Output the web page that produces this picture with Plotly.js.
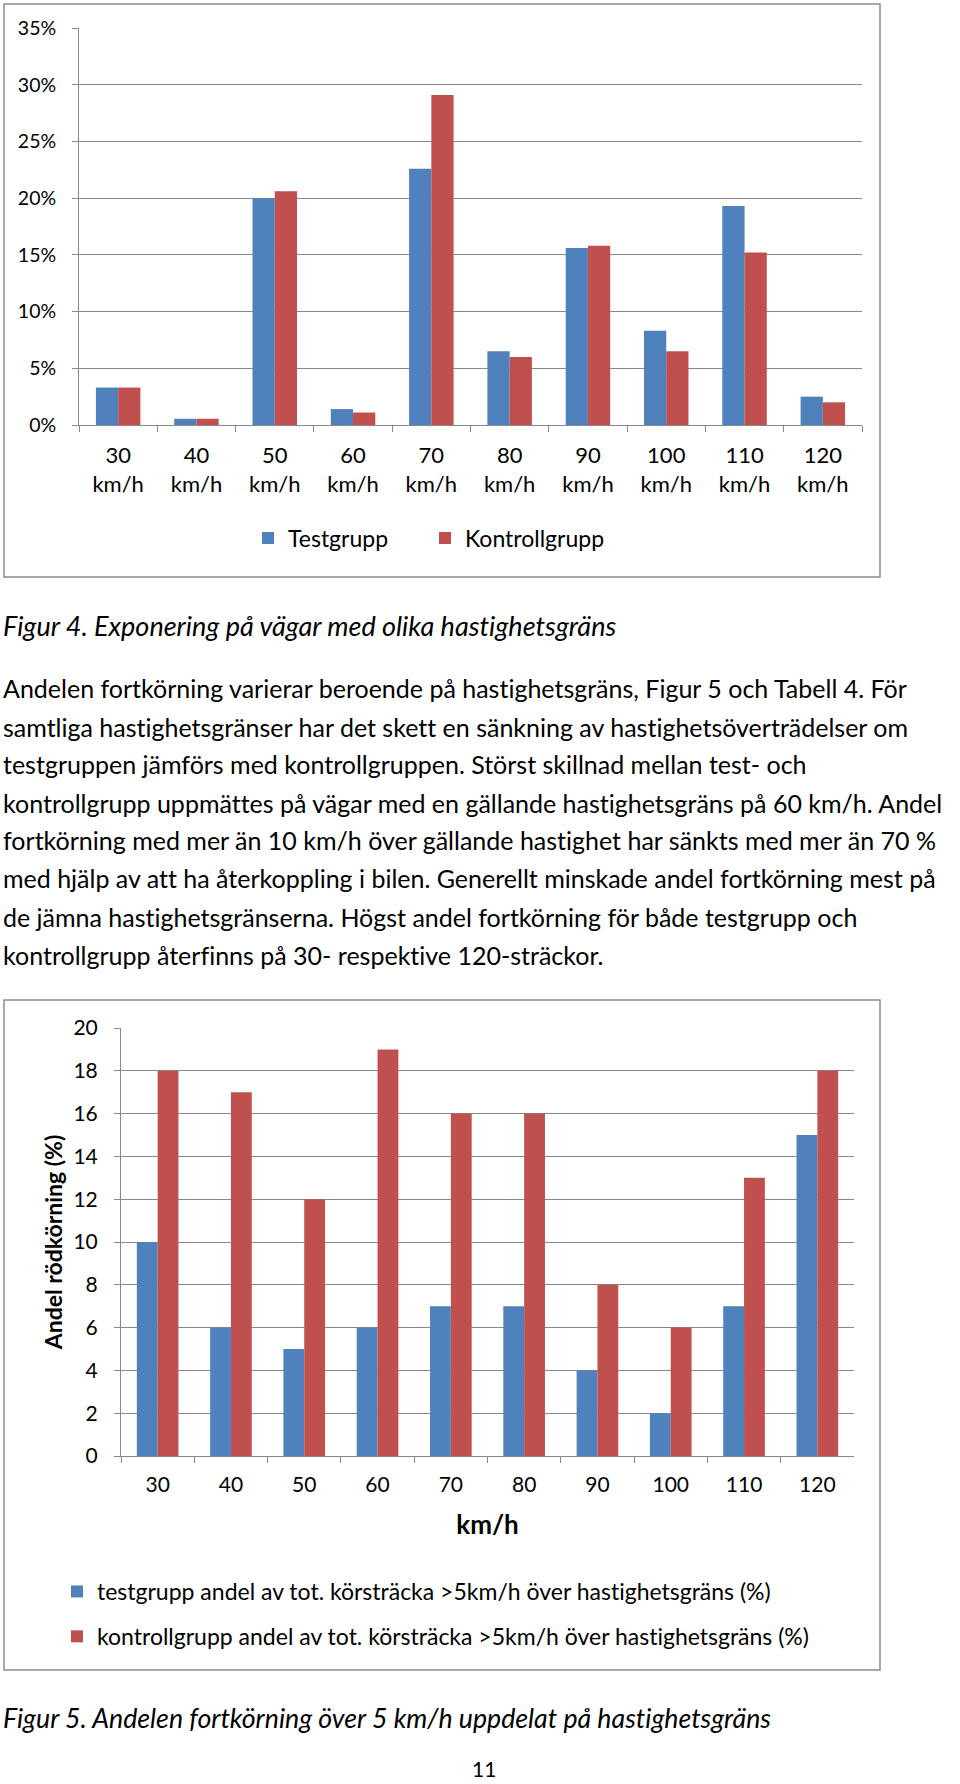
<!DOCTYPE html>
<html>
<head>
<meta charset="utf-8">
<script src="https://cdn.plot.ly/plotly-3.0.1.min.js"></script>
<style>
  body { margin: 0; background: #fff; }
  #sida { width: 960px; height: 1784px; }
  text, tspan {
    font-variant-ligatures: none !important;
    font-feature-settings: "liga" 0, "clig" 0 !important;
  }
</style>
</head>
<body>
<div id="sida"></div>
<script>
// Figur 4 - exponering per hastighetsgräns (andel)
var hastigheter = [30, 40, 50, 60, 70, 80, 90, 100, 110, 120];
var testgrupp = [0.033, 0.0055, 0.200, 0.014, 0.226, 0.065, 0.156, 0.083, 0.193, 0.025];
var kontrollgrupp = [0.033, 0.0055, 0.206, 0.011, 0.291, 0.060, 0.158, 0.065, 0.152, 0.020];

// Figur 5 - andel fortkörning > 5 km/h (%)
var testFort = [10, 6, 5, 6, 7, 7, 4, 2, 7, 15];
var kontrollFort = [18, 17, 12, 19, 16, 16, 8, 6, 13, 18];

var stycke = [
  "Andelen fortkörning varierar beroende på hastighetsgräns, Figur 5 och Tabell 4. För",
  "samtliga hastighetsgränser har det skett en sänkning av hastighetsöverträdelser om",
  "testgruppen jämförs med kontrollgruppen. Störst skillnad mellan test- och",
  "kontrollgrupp uppmättes på vägar med en gällande hastighetsgräns på 60 km/h. Andel",
  "fortkörning med mer än 10 km/h över gällande hastighet har sänkts med mer än 70 %",
  "med hjälp av att ha återkoppling i bilen. Generellt minskade andel fortkörning mest på",
  "de jämna hastighetsgränserna. Högst andel fortkörning för både testgrupp och",
  "kontrollgrupp återfinns på 30- respektive 120-sträckor."
];

var W = 960, H = 1784;
function fx(px) { return px / W; }
function fy(py) { return 1 - py / H; }

var BLA = "#4F81BD";
var ROD = "#C0504D";
var GRA = "#898989";
var typsnitt = "Lato, 'Open Sans', sans-serif";

var kategorier1 = hastigheter.map(function (h) { return h + " km/h"; });
var etiketter1 = hastigheter.map(function (h) { return h + "<br>km/h"; });
var kategorier2 = hastigheter.map(String);

var data = [
  { type: "bar", x: kategorier1, y: testgrupp, name: "Testgrupp",
    marker: { color: BLA }, xaxis: "x", yaxis: "y", legend: "legend", hoverinfo: "none" },
  { type: "bar", x: kategorier1, y: kontrollgrupp, name: "Kontrollgrupp",
    marker: { color: ROD }, xaxis: "x", yaxis: "y", legend: "legend3", hoverinfo: "none" },
  { type: "bar", x: kategorier2, y: testFort,
    name: "testgrupp andel av tot. körsträcka >5km/h över hastighetsgräns (%)",
    marker: { color: BLA }, xaxis: "x2", yaxis: "y2", legend: "legend2",
    legendgroup: "a", hoverinfo: "none" },
  { type: "bar", x: kategorier2, y: kontrollFort,
    name: "kontrollgrupp andel av tot. körsträcka >5km/h över hastighetsgräns (%)",
    marker: { color: ROD }, xaxis: "x2", yaxis: "y2", legend: "legend2",
    legendgroup: "b", hoverinfo: "none" }
];

var annotations = [];
annotations.push({
  xref: "paper", yref: "paper", x: fx(1), y: fy(625), xanchor: "left", yanchor: "middle",
  showarrow: false, text: "<i>Figur 4. Exponering på vägar med olika hastighetsgräns</i>",
  font: { family: typsnitt, size: 27, color: "#000" }
});
var radY = [688, 727, 764, 803, 840, 878, 917, 955];
stycke.forEach(function (rad, i) {
  annotations.push({
    xref: "paper", yref: "paper", x: fx(1), y: fy(radY[i]), xanchor: "left", yanchor: "middle",
    showarrow: false, text: rad, font: { family: typsnitt, size: 25, color: "#000" }
  });
});
annotations.push({
  xref: "paper", yref: "paper", x: fx(1), y: fy(1718), xanchor: "left", yanchor: "middle",
  showarrow: false, text: "<i>Figur 5. Andelen fortkörning över 5 km/h uppdelat på hastighetsgräns</i>",
  font: { family: typsnitt, size: 26.7, color: "#000" }
});
annotations.push({
  xref: "paper", yref: "paper", x: fx(484), y: fy(1768), xanchor: "center", yanchor: "middle",
  showarrow: false, text: "11", font: { family: typsnitt, size: 21, color: "#000" }
});

var layout = {
  width: W, height: H,
  margin: { l: 0, r: 0, t: 0, b: 0 },
  paper_bgcolor: "#fff", plot_bgcolor: "#fff",
  barmode: "group", bargap: 0.432, bargroupgap: 0,
  font: { family: typsnitt, color: "#000" },
  xaxis: {
    domain: [fx(79), fx(862)], anchor: "y", type: "category",
    tickvals: kategorier1, ticktext: etiketter1,
    showline: true, linecolor: GRA, linewidth: 1,
    ticks: "outside", tickson: "boundaries", ticklen: 6, tickcolor: GRA,
    showgrid: false, tickfont: { size: 22 }, ticklabelstandoff: 11, fixedrange: true
  },
  yaxis: {
    domain: [fy(425), fy(28)], anchor: "x", range: [0, 0.35], dtick: 0.05,
    tickformat: ".0%", showgrid: true, gridcolor: GRA, gridwidth: 1,
    showline: true, linecolor: GRA, ticks: "outside", ticklen: 6, tickcolor: GRA,
    zeroline: false, tickfont: { size: 19.5 }, ticklabelstandoff: 12, fixedrange: true
  },
  xaxis2: {
    domain: [fx(121), fx(854)], anchor: "y2", type: "category",
    showline: true, linecolor: GRA, linewidth: 1,
    ticks: "outside", tickson: "boundaries", ticklen: 6, tickcolor: GRA,
    showgrid: false, tickfont: { size: 21 }, ticklabelstandoff: 10, fixedrange: true,
    title: { text: "km/h", font: { size: 26, weight: "bold" }, standoff: 20 }
  },
  yaxis2: {
    domain: [fy(1456), fy(1028)], anchor: "x2", range: [0, 20], dtick: 2,
    showgrid: true, gridcolor: GRA, gridwidth: 1,
    showline: true, linecolor: GRA, ticks: "outside", ticklen: 6, tickcolor: GRA,
    zeroline: false, tickfont: { size: 21 }, ticklabelstandoff: 12, fixedrange: true,
    title: { text: "Andel rödkörning (%)", font: { size: 23, weight: "bold" }, standoff: 4 }
  },
  legend: {
    orientation: "h", x: fx(248), y: fy(538), xanchor: "left", yanchor: "middle",
    font: { size: 23 }, bgcolor: "rgba(0,0,0,0)"
  },
  legend3: {
    orientation: "h", x: fx(425), y: fy(538), xanchor: "left", yanchor: "middle",
    font: { size: 23 }, bgcolor: "rgba(0,0,0,0)"
  },
  legend2: {
    orientation: "v", x: fx(57), y: fy(1614), xanchor: "left", yanchor: "middle",
    tracegroupgap: 12, font: { size: 23 }, bgcolor: "rgba(0,0,0,0)"
  },
  shapes: [
    { type: "rect", xref: "paper", yref: "paper", x0: fx(4), x1: fx(880), y0: fy(577), y1: fy(4),
      line: { color: "#8c8c8c", width: 1.5 } },
    { type: "rect", xref: "paper", yref: "paper", x0: fx(4), x1: fx(880), y0: fy(1670), y1: fy(1000),
      line: { color: "#8c8c8c", width: 1.5 } }
  ],
  annotations: annotations,
  showlegend: true
};

Plotly.newPlot("sida", data, layout, { staticPlot: true });
</script>
</body>
</html>
